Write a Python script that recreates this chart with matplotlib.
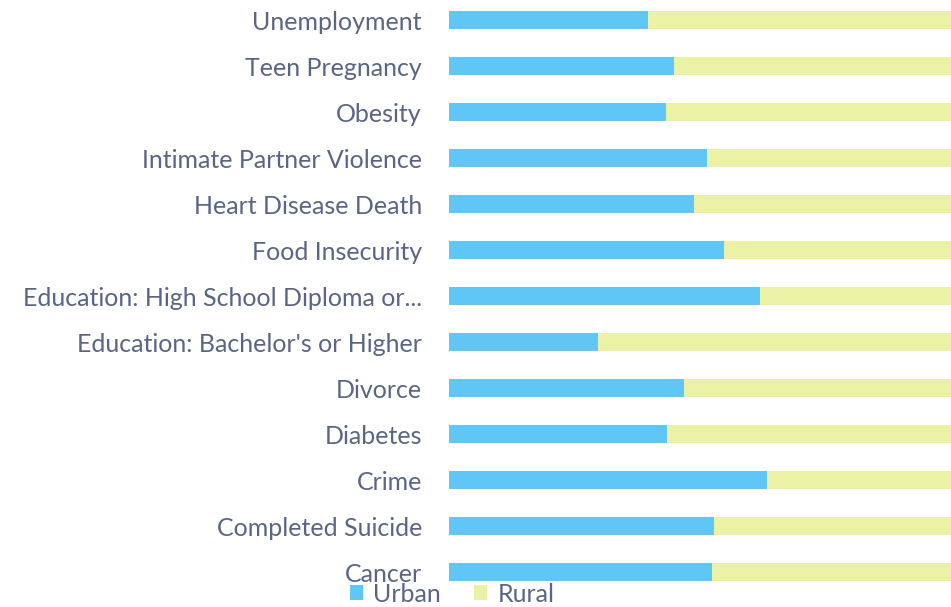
import numpy as np
import matplotlib.pyplot as plt

categories = [
    "Unemployment",
    "Teen Pregnancy",
    "Obesity",
    "Intimate Partner Violence",
    "Heart Disease Death",
    "Food Insecurity",
    "Education: High School Diploma or...",
    "Education: Bachelor's or Higher",
    "Divorce",
    "Diabetes",
    "Crime",
    "Completed Suicide",
    "Cancer",
]
urban = [39.6, 44.8, 43.2, 51.4, 48.8, 54.8, 62.0, 29.7, 46.8, 43.4, 63.3, 52.8, 52.4]
rural = [100 - u for u in urban]

BLUE = "#5fc6f5"
GREEN = "#ebf2a6"
TEXT = "#5a6585"

plt.rcParams["font.family"] = ["Lato", "DejaVu Sans"]

fig = plt.figure(figsize=(9.51, 6.07), dpi=100)
ax = fig.add_axes([449 / 951, 1 - 595 / 607, 1 - 449 / 951, 595 / 607])

y = np.arange(len(categories))
ax.barh(y, urban, height=0.37, color=BLUE, label="Urban")
ax.barh(y, rural, left=urban, height=0.37, color=GREEN, label="Rural")

ax.set_xlim(0, 100)
ax.set_ylim(12.5, -0.435)
ax.set_yticks(y)
ax.set_yticklabels(categories, fontsize=18, color=TEXT)
ax.tick_params(axis="y", length=0, pad=19.5)
ax.set_xticks([])
for s in ax.spines.values():
    s.set_visible(False)

fig.legend(loc="center", bbox_to_anchor=(452 / 951, 1 - 594 / 607), ncol=2,
           frameon=False, fontsize=18, labelcolor=TEXT, handlelength=0.55,
           handleheight=0.55, handletextpad=0.4, columnspacing=1.3,
           borderpad=0)

fig.savefig("out.png", dpi=100)
